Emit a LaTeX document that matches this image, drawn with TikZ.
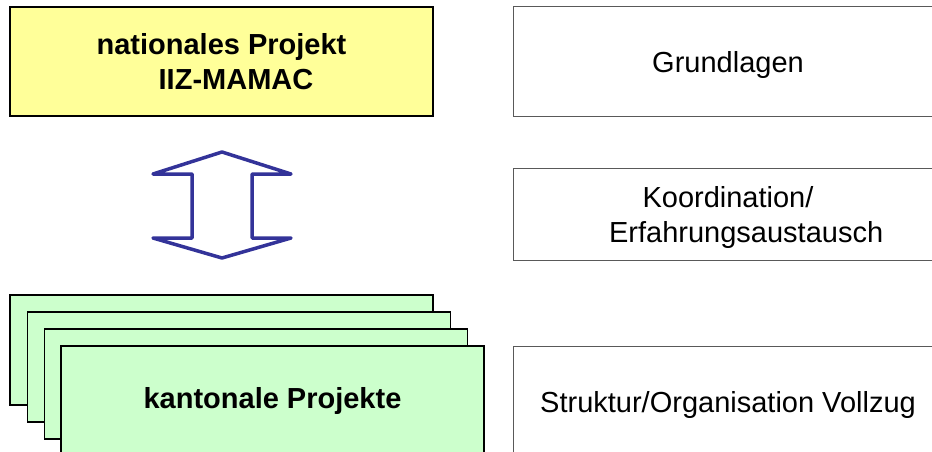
\documentclass[tikz,border=0pt]{standalone}
\usepackage{fontspec}
\setmainfont{Liberation Sans}
\usepackage{xcolor}
\usepackage{tikz}
\usetikzlibrary{positioning}
\definecolor{natyellow}{HTML}{FFFF99}
\definecolor{kantgreen}{HTML}{CCFFCC}
\definecolor{arrowblue}{HTML}{333399}
\tikzstyle{natnode}=[black, draw=black, line width=1.5pt, shape=rectangle, fill=natyellow, minimum width=423pt, minimum height=109pt, inner sep=0pt, text depth=0pt, align=center, font=\bfseries\fontsize{29}{35}\selectfont]
\tikzstyle{kantnode}=[black, draw=black, line width=1.5pt, shape=rectangle, fill=kantgreen, minimum width=423pt, minimum height=110pt, inner sep=0pt, align=center, font=\bfseries\fontsize{29}{35}\selectfont]
\tikzstyle{themenode}=[black, draw=black!65, line width=1pt, shape=rectangle, fill=white, minimum width=430pt, inner sep=0pt, text depth=0pt, align=center, font=\fontsize{29}{35}\selectfont]

\begin{document}
\begin{tikzpicture}[x=1pt, y=-1pt]
\clip (0,0) rectangle (932,452);
\fill[white] (0,0) rectangle (932,452);

\node [natnode] (nat) at (221.5,61.5) {nationales Projekt\\\hspace*{1em}IIZ-MAMAC};

\node [kantnode] (kant3) at (221.5,350) {};
\node [kantnode] (kant2) at (239,367) {};
\node [kantnode] (kant1) at (256,384) {};
\node [kantnode] (kant0) at (272.5,401) {};
\node [font=\bfseries\fontsize{29}{35}\selectfont, anchor=base] (kanttext) at (272.5,408) {kantonale Projekte};

\draw[line width=3.5pt, color=arrowblue, fill=white, line join=round] (222,152) -- (153,174) -- (192,174) -- (192,238) -- (153,238) -- (222,258) -- (291,238) -- (252,238) -- (252,174) -- (291,174) -- cycle;

\node [themenode, minimum height=109pt] (grund) at (728,61.5) {Grundlagen};
\node [themenode, minimum height=92pt, text height=57pt] (koord) at (728,214) {Koordination/\\\hspace*{1.25em}Erfahrungsaustausch};
\node [themenode, minimum height=111pt] (vollzug) at (728,401.5) {Struktur/Organisation Vollzug};
\end{tikzpicture}
\end{document}
